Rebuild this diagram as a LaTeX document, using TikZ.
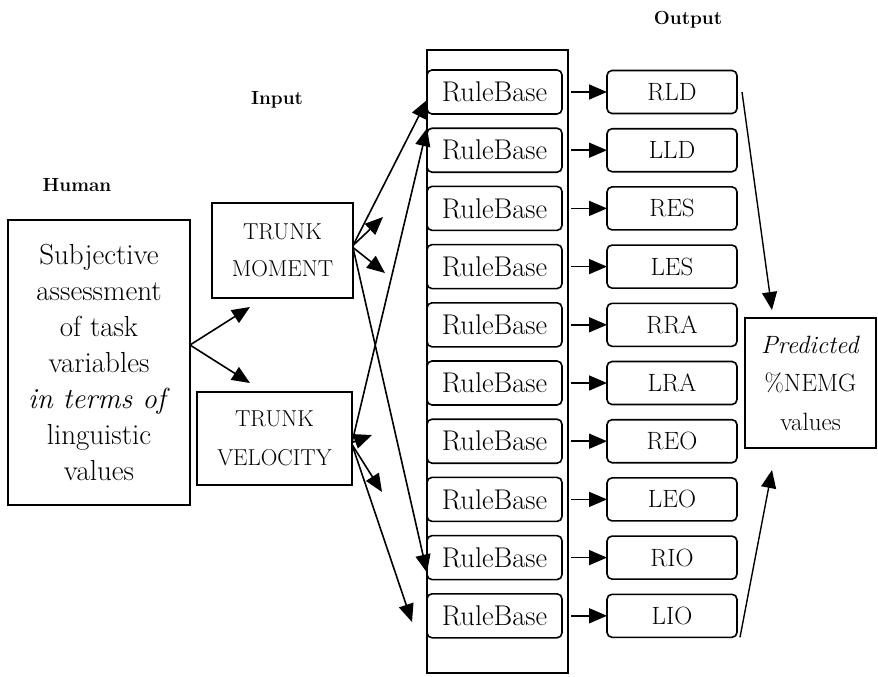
\documentclass[tikz,border=0pt]{standalone}
\usepackage{fontspec}
\usetikzlibrary{arrows.meta,calc}
\begin{document}
\begin{tikzpicture}[x=1pt,y=-1pt,
  every node/.style={inner sep=0pt,outer sep=0pt},
  plainbox/.style={draw,line width=1.6pt,align=center},
  rulebox/.style={draw,line width=1.6pt,fill=white,rounded corners=5pt,
    minimum width=135pt,minimum height=44pt,font=\fontsize{28.5}{30}\selectfont},
  outbox/.style={draw,line width=1.6pt,rounded corners=5pt,
    minimum width=130pt,minimum height=43pt,font=\fontsize{25}{28}\selectfont},
  tag/.style={font=\fontsize{19}{22}\selectfont\bfseries},
  link/.style={line width=1.6pt,-{Triangle[length=18pt,width=15pt]}},
  thinlink/.style={line width=1.4pt,-{Triangle[length=18pt,width=15pt]}}
]
\useasboundingbox (0,0) rectangle (878,677);

% section labels
\node[tag] (lhuman) at (77,185) {Human};
\node[tag] (linput) at (277,100) {Input};
\node[tag] (loutput) at (688,20) {Output};

% human assessment
\node[plainbox,minimum width=182pt,minimum height=285pt,
  font=\fontsize{29}{36}\selectfont] (human) at (99,362.5)
  {Subjective\\assessment\\of task\\variables\\\textit{in terms of}\\linguistic\\values};

% input variables
\node[plainbox,minimum width=141pt,minimum height=95pt,
  font=\fontsize{23}{37}\selectfont] (tm) at (282.5,250.5) {TRUNK\\MOMENT};
\node[plainbox,minimum width=155pt,minimum height=93pt,
  font=\fontsize{23}{39}\selectfont] (tv) at (274.5,438.5) {TRUNK\\VELOCITY};

% rule base column
\node[draw,line width=1.6pt,minimum width=141pt,minimum height=623pt] (col) at (497.5,361.5) {};

% rule bases and outputs
\foreach \lab [count=\i] in {RLD,LLD,RES,LES,RRA,LRA,REO,LEO,RIO,LIO} {
  \pgfmathsetmacro\yy{92+58.2*(\i-1)}
  \node[rulebox] (rb\i) at (494.5,\yy) {RuleBase};
  \node[outbox] (out\i) at (672,\yy) {\lab};
  \draw[link] ($(rb\i -| col.east)+(3,0)$) -- (out\i.west);
}

% predicted values
\node[plainbox,minimum width=131pt,minimum height=130pt,
  font=\fontsize{25}{38.5}\selectfont] (pred) at (810.5,383)
  {\textit{Predicted}\\\%NEMG\\values};

% free ends of the short connectors
\coordinate (hA) at (250,307);
\coordinate (hB) at (250,383);
\coordinate (tmS1) at (383,217);
\coordinate (tmS2) at (385,273);
\coordinate (tvS1) at (372,435);
\coordinate (tvS2) at (382,492);
\coordinate (tvL) at (412,622);
\coordinate (pA) at (772,310);
\coordinate (pB) at (772,470);

% human to inputs
\draw[link] ([yshift=17.5pt]human.east) -- (hA);
\draw[link] ([yshift=17.5pt]human.east) -- (hB);

% trunk moment to rule bases
\draw[link] ([yshift=5pt]tm.east) -- ([yshift=-8pt]rb1.west);
\draw[link] ([yshift=5pt]tm.east) -- (tmS1);
\draw[link] ([yshift=3pt]tm.east) -- (tmS2);
\draw[link] ([yshift=3pt]tm.east) -- ([yshift=-15pt]rb9.west);

% trunk velocity to rule bases
\draw[link] ([yshift=-4pt]tv.east) -- (rb2.north west);
\draw[link] ([yshift=-4pt]tv.east) -- (tvS1);
\draw[link] ([yshift=-6pt]tv.east) -- (tvS2);
\draw[link] ([yshift=-6pt]tv.east) -- (tvL);

% outputs to prediction
\draw[thinlink] ([xshift=5pt]out1.east) -- (pA);
\draw[thinlink] ([xshift=3pt]out10.south east) -- (pB);
\end{tikzpicture}
\end{document}
